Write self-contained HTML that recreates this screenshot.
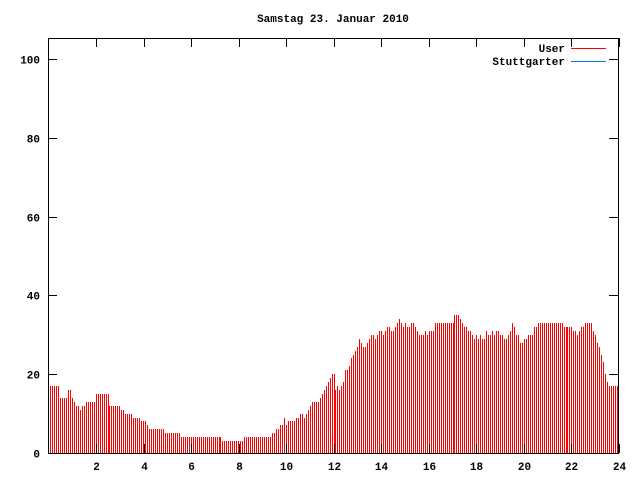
<!DOCTYPE html>
<html><head><meta charset="utf-8"><style>
html,body{margin:0;padding:0;background:#fff;}
svg{display:block;}
text{font-family:"Liberation Mono",monospace;font-size:11px;font-weight:bold;fill:#000;}
</style></head><body>
<svg id="s" width="640" height="480" xmlns="http://www.w3.org/2000/svg" shape-rendering="crispEdges">
<rect x="0" y="0" width="640" height="480" fill="#fff"/>
<g id="bars"></g>
<rect x="48.5" y="38.5" width="570" height="415" fill="none" stroke="#000" stroke-width="1"/>
<g id="ticks" stroke="#000" stroke-width="1"></g>
<g id="lab"></g>
<text x="333" y="22" text-anchor="middle">Samstag 23. Januar 2010</text>
<text x="565" y="52" text-anchor="end">User</text>
<line x1="571" y1="48.5" x2="606" y2="48.5" stroke="#f00"/>
<text x="565" y="65" text-anchor="end">Stuttgarter</text>
<line x1="571" y1="61.5" x2="606" y2="61.5" stroke="#1a75d8"/>
</svg>
<script>
var v=[17,17,17,17,17,14,14,14,14,16,16,14,
13,12,12,11,12,12,13,13,13,13,13,15,
15,15,15,15,15,15,12,12,12,12,12,12,
11,11,10,10,10,10,9,9,9,9,8,8,
8,7,6,6,6,6,6,6,6,6,5,5,
5,5,5,5,5,5,4,4,4,4,4,4,
4,4,4,4,4,4,4,4,4,4,4,4,
4,4,4,3,3,3,3,3,3,3,3,3,
3,3,4,4,4,4,4,4,4,4,4,4,
4,4,4,4,5,5,6,6,7,7,9,7,
8,8,8,8,9,9,10,10,9,10,11,12,
13,13,13,13,14,15,16,17,18,19,20,20,
16,17,16,17,18,21,21,22,24,25,26,27,
29,28,27,27,28,29,30,30,29,30,31,31,
30,31,32,32,31,31,32,33,34,33,32,33,
32,32,33,33,32,31,30,30,30,31,30,31,
31,31,33,33,33,33,33,33,33,33,33,33,
35,35,35,34,33,32,32,31,31,30,29,30,
29,30,29,29,31,30,30,31,30,31,31,30,
30,29,29,30,31,33,32,30,30,28,28,29,
29,30,30,30,32,32,33,33,33,33,33,33,
33,33,33,33,33,33,33,32,32,32,32,32,
31,31,30,31,32,32,33,33,33,33,31,30,
28,27,25,23,20,18,17,17,17,17,17,17];
var slips=[30,86,144,204,261];
var b=document.getElementById('bars'),h='';
for(var i=0;i<287;i++){var s=0;for(var j=0;j<slips.length;j++)if(i>=slips[j])s++;
var x=50+2*i-s;var y=Math.round(453-v[i]*3.94);
h+='<rect x="'+x+'" y="'+y+'" width="1" height="'+(453-y)+'" fill="#f00"/>';}
b.innerHTML=h;
var t='',l='';
for(var k=0;k<=100;k+=20){var y=Math.round(453-k*3.94)+0.5;t+='<line x1="48" y1="'+y+'" x2="57" y2="'+y+'"/><line x1="609" y1="'+y+'" x2="618" y2="'+y+'"/>';
l+='<text x="40" y="'+(y+4)+'" text-anchor="end">'+k+'</text>';}
for(var hh=2;hh<=24;hh+=2){var x=Math.round(48.5+hh*23.75)+0.5;t+='<line x1="'+x+'" y1="453" x2="'+x+'" y2="444"/><line x1="'+x+'" y1="38" x2="'+x+'" y2="47"/>';
l+='<text x="'+x+'" y="470" text-anchor="middle">'+hh+'</text>';}
document.getElementById('ticks').innerHTML=t;document.getElementById('lab').innerHTML=l;
</script>
</body></html>
